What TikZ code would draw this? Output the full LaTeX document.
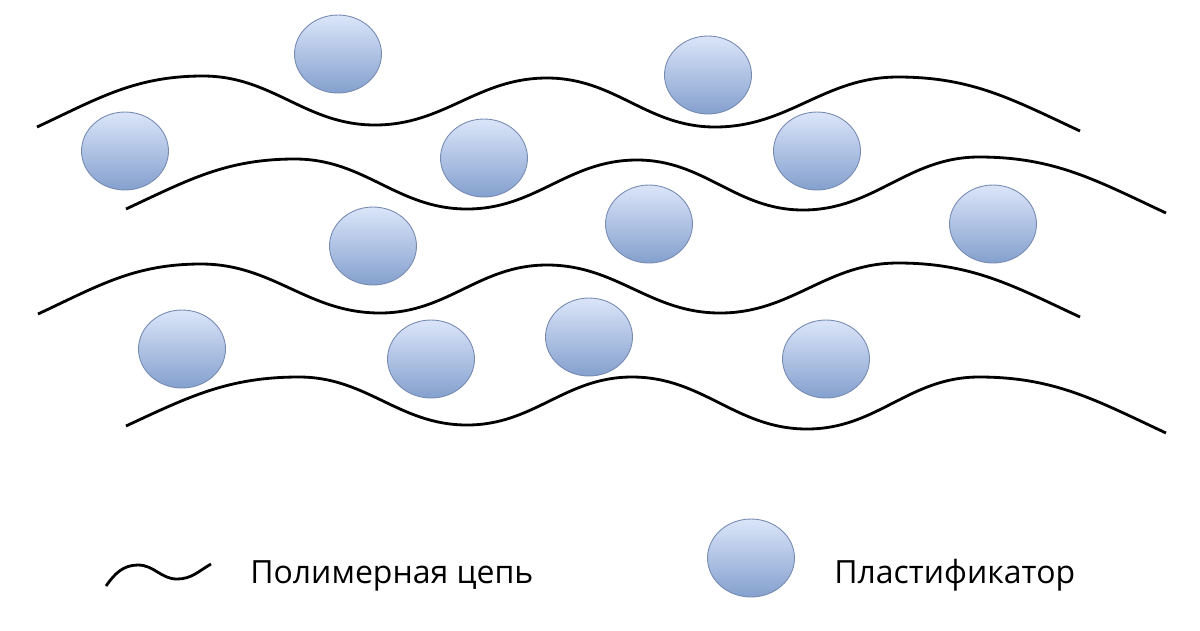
\documentclass[tikz,border=0pt]{standalone}
\usepackage{fontspec}
\setmainfont{Open Sans}
\usetikzlibrary{shapes.geometric}
\definecolor{plasttop}{RGB}{219,229,249}
\definecolor{plastbot}{RGB}{132,160,206}
\definecolor{plastline}{RGB}{118,138,178}
\begin{document}
\begin{tikzpicture}
    [
    x=0.02cm, y=0.02cm,
    plast/.style={ellipse,draw=plastline,line width=0.5pt,top color=plasttop,bottom color=plastbot,inner sep=0pt,minimum width=1.74cm,minimum height=1.56cm},
    chain/.style={line width=1.6pt,black},
    legend/.style={anchor=base west,inner sep=0pt,font=\fontsize{18.2}{22}\selectfont}
    ]
    \useasboundingbox (0,0) rectangle (1200,-630);
    % plasticizer molecules
    \node (p1) at (338,-54) [plast] {};
    \node (p2) at (708,-75) [plast] {};
    \node (p3) at (125,-151) [plast] {};
    \node (p4) at (484,-158) [plast] {};
    \node (p5) at (817,-151) [plast] {};
    \node (p6) at (649,-224) [plast] {};
    \node (p7) at (373,-246) [plast] {};
    \node (p8) at (993,-224) [plast] {};
    \node (p9) at (182,-349) [plast] {};
    \node (p10) at (431,-359) [plast] {};
    \node (p11) at (589,-337) [plast] {};
    \node (p12) at (826,-359) [plast] {};
    % polymer chains
    \draw [chain] (37,-127) to[out=25,in=180] (203,-76) to[out=0,in=180] (375,-125) to[out=0,in=180] (547,-78)
      to[out=0,in=180] (715,-127) to[out=0,in=180] (898,-77) to[out=0,in=155] (1080,-131);
    \draw [chain] (126,-209) to[out=25,in=180] (295,-159) to[out=0,in=180] (467,-209) to[out=0,in=180] (637,-160)
      to[out=0,in=180] (803,-210) to[out=0,in=180] (979,-157) to[out=0,in=155] (1166,-213);
    \draw [chain] (38,-314) to[out=25,in=180] (201,-264) to[out=0,in=180] (380,-313) to[out=0,in=180] (547,-265)
      to[out=0,in=180] (720,-313) to[out=0,in=180] (898,-263) to[out=0,in=155] (1080,-317);
    \draw [chain] (126,-426) to[out=25,in=180] (299,-377) to[out=0,in=180] (467,-425) to[out=0,in=180] (632,-377)
      to[out=0,in=180] (807,-429) to[out=0,in=180] (979,-377) to[out=0,in=155] (1166,-433);
    % legend
    \coordinate (w0) at (106,-586);
    \coordinate (w1) at (211,-564);
    \draw [chain] (w0) to[out=55,in=180] (138,-565) to[out=0,in=180] (177,-579) to[out=0,in=210] (w1);
    \node (chainlabel) at (250,-583) [legend] {Полимерная цепь};
    \node (pleg) at (751,-558) [plast] {};
    \node (plastlabel) at (834,-583) [legend] {Пластификатор};
\end{tikzpicture}
\end{document}
